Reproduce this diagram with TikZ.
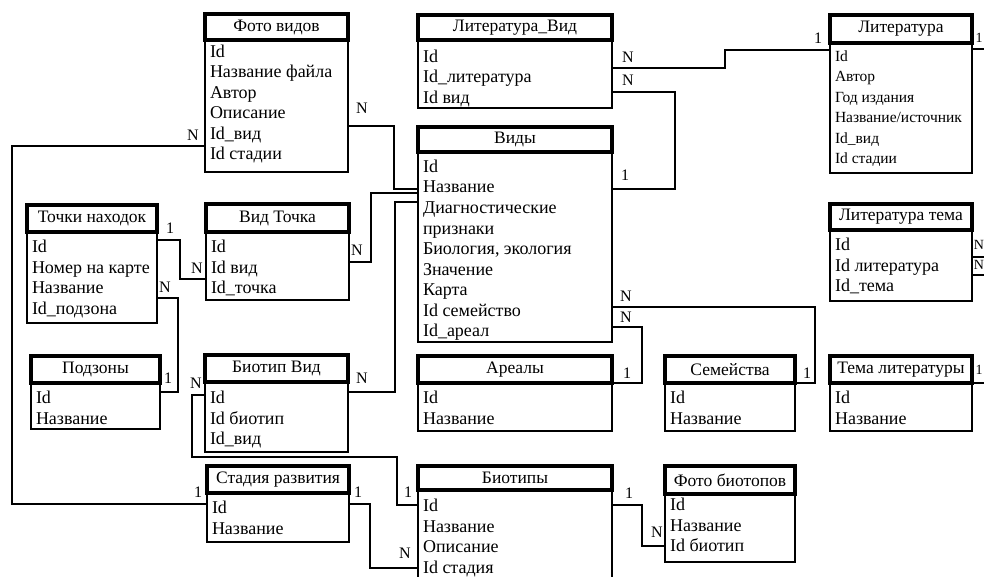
\documentclass[tikz,border=0pt]{standalone}
\usepackage{fontspec}
\setmainfont{Liberation Serif}
\usetikzlibrary{calc}
\tikzset{
  tbox/.style={draw, line width=2.6pt, inner sep=0pt, outer sep=0pt},
  thead/.style={draw, line width=3.6pt, inner sep=0pt, outer sep=0pt, font=\fontsize{17.5}{17.5}\selectfont},
  trow/.style={inner sep=0pt, outer sep=0pt, font=\fontsize{18}{20}\selectfont},
  conn/.style={line width=2.4pt},
  lbl/.style={inner sep=0pt, font=\fontsize{16}{16}\selectfont},
  edgelbl/.style={inner sep=0pt, font=\fontsize{14}{14}\selectfont},
}
% name, x, y, w, h, header height, header, rows, first row offset
\newcommand\tbl[9]{%
  \node[tbox, minimum width=#4pt, minimum height=#5pt, anchor=north west] (#1) at (#2,#3) {};
  \node[thead, minimum width=#4pt, minimum height=#6pt, anchor=north west] (#1h) at (#2,#3) {#7};
  \foreach \rr [count=\ii] in {#8} {\node[trow, anchor=base west] (#1r\ii) at ([xshift=5pt,yshift={-(#9+5.5+20.5*(\ii-1))*1pt}]#1.north west) {\rr};}
}
\begin{document}
\begin{tikzpicture}[x=1pt,y=-1pt]
\path[use as bounding box, clip] (0,0) rectangle (984,577);
\fill[white] (0,0) rectangle (984,577);

\tbl{fv}{205}{14}{143}{158}{26}{Фото видов}{Id,Название файла,Автор,Описание,Id\_вид,Id стадии}{38}
\tbl{lv}{418}{15}{194}{93}{25}{Литература\_Вид}{Id,Id\_литература,Id вид}{42}
\begin{scope}[trow/.style={inner sep=0pt, outer sep=0pt, font=\fontsize{15.5}{18}\selectfont}]
\tbl{lit}{830}{15}{142}{158}{28}{Литература}{Id,Автор,Год издания,Название/источник,Id\_вид,Id стадии}{41}
\end{scope}
\tbl{vid}{418}{127}{194}{215}{25}{Виды}{Id,Название,Диагностические,признаки,{Биология, экология},Значение,Карта,Id семейство,Id\_ареал}{40}
\tbl{tn}{27}{205}{130}{118}{27}{Точки находок}{Id,Номер на карте,Название,Id\_подзона}{42}
\tbl{vt}{206}{204}{143}{96}{28}{Вид Точка}{Id,Id вид,Id\_точка}{43}
\tbl{lt}{830}{204}{142}{97}{26}{Литература тема}{Id,Id литература,Id\_тема}{41}
\tbl{pz}{31}{356}{129}{73}{27}{Подзоны}{Id,Название}{42}
\tbl{bv}{205}{355}{143}{97}{27}{Биотип Вид}{Id,Id биотип,Id\_вид}{43}
\tbl{ar}{418}{356}{194}{75}{27}{Ареалы}{Id,Название}{42}
\tbl{sem}{665}{356}{130}{75}{27}{Семейства}{Id,Название}{42}
\tbl{tl}{830}{356}{142}{75}{27}{Тема литературы}{Id,Название}{42}
\tbl{sr}{207}{466}{142}{76}{27}{Стадия развития}{Id,Название}{42}
\tbl{bt}{418}{466}{194}{130}{24}{Биотипы}{Id,Название,Описание,Id стадия}{40}
\tbl{fb}{665}{466}{130}{96}{28}{Фото биотопов}{Id,Название,Id биотип}{39}

% connectors
\draw[conn] ([yshift=-112pt]fv.north east) -- ++(46,0) |- ([yshift=-62pt]vid.north west);
\draw[conn] ([yshift=-58pt]vt.north east) -- ++(22,0) |- ([yshift=-66pt]vid.north west);
\draw[conn] ([yshift=-37pt]bv.north east) -- ++(47,0) |- ([yshift=-75pt]vid.north west);
\draw[conn] ([yshift=-53pt]lv.north east) -- ++(113,0) |- ([yshift=-35pt]lit.north west);
\draw[conn] ([yshift=-77pt]lv.north east) -- ++(63,0) |- ([yshift=-62pt]vid.north east);
\coordinate (e1) at ([xshift=20pt,yshift=-34pt]lit.north east);
\draw[conn] ([yshift=-34pt]lit.north east) -- (e1);
\draw[conn] ([yshift=-180pt]vid.north east) -- ++(203,0) |- ([yshift=-27pt]sem.north east);
\draw[conn] ([yshift=-200pt]vid.north east) -- ++(30,0) |- ([yshift=-27pt]ar.north east);
\coordinate (e2) at ([xshift=20pt,yshift=-53pt]lt.north east);
\coordinate (e3) at ([xshift=20pt,yshift=-71pt]lt.north east);
\coordinate (e4) at ([xshift=20pt,yshift=-27pt]tl.north east);
\draw[conn] ([yshift=-53pt]lt.north east) -- (e2);
\draw[conn] ([yshift=-71pt]lt.north east) -- (e3);
\draw[conn] ([yshift=-27pt]tl.north east) -- (e4);
\draw[conn] ([yshift=-35pt]tn.north east) -- ++(23,0) |- ([yshift=-75pt]vt.north west);
\draw[conn] ([yshift=-93pt]tn.north east) -- ++(21,0) |- ([yshift=-36pt]pz.north east);
\draw[conn] ([yshift=-132pt]fv.north west) -- ++(-193,0) |- ([yshift=-38pt]sr.north west);
\draw[conn] ([yshift=-40pt]bv.north west) -- ++(-13,0) |- ++(205,62) |- ([yshift=-39pt]bt.north west);
\draw[conn] ([yshift=-38pt]sr.north east) -- ++(21,0) |- ([yshift=-102pt]bt.north west);
\draw[conn] ([yshift=-39pt]bt.north east) -- ++(30,0) |- ([yshift=-80pt]fb.north west);

% labels
\node[lbl] (l1) at (362,108) {N};
\node[lbl] (l2) at (357,250) {N};
\node[lbl] (l3) at (362,378) {N};
\node[lbl] (l4) at (628,57) {N};
\node[lbl] (l5) at (818,38) {1};
\node[lbl] (l6) at (628,80) {N};
\node[lbl] (l7) at (625,175) {1};
\node[edgelbl] (l8) at (979,38) {1};
\node[lbl] (l9) at (626,296) {N};
\node[lbl] (l10) at (807,373) {1};
\node[lbl] (l11) at (626,317) {N};
\node[lbl] (l12) at (627,373) {1};
\node[edgelbl] (l13) at (979,245) {N};
\node[edgelbl] (l14) at (979,265) {N};
\node[edgelbl] (l15) at (979,370) {1};
\node[lbl] (l16) at (170,228) {1};
\node[lbl] (l17) at (197,268) {N};
\node[lbl] (l18) at (165,287) {N};
\node[lbl] (l19) at (168,378) {1};
\node[lbl] (l20) at (193,135) {N};
\node[lbl] (l21) at (198,492) {1};
\node[lbl] (l22) at (196,383) {N};
\node[lbl] (l23) at (408,492) {1};
\node[lbl] (l24) at (358,492) {1};
\node[lbl] (l25) at (405,553) {N};
\node[lbl] (l26) at (629,493) {1};
\node[lbl] (l27) at (657,532) {N};
\end{tikzpicture}
\end{document}
